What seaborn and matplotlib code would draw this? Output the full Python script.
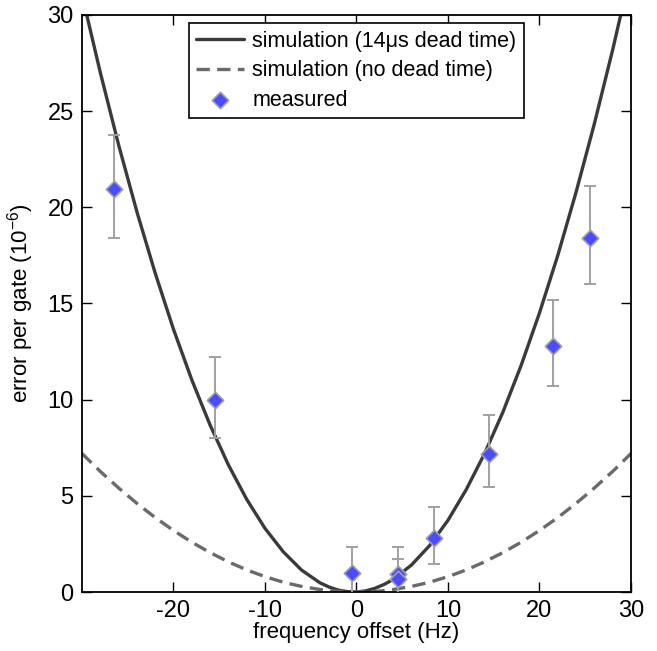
import numpy as np
import pandas as pd
import matplotlib
matplotlib.use("Agg")
import matplotlib.pyplot as plt
import seaborn as sns

# simulation curves
sim_x = [-30, -28, -26, -24, -22, -20, -18, -16, -14, -12, -10, -8, -6, -4, -3, -2, -1, 0,
         1, 2, 3, 4, 6, 8, 10, 12, 14, 16, 18, 20, 22, 24, 26, 28, 30]
dead_y = [31.05, 27.01, 23.25, 19.77, 16.58, 13.66, 11.03, 8.68, 6.61, 4.82, 3.31,
          2.09, 1.14, 0.48, 0.26, 0.10, 0.02, 0.00, 0.06, 0.19, 0.39, 0.65, 1.40,
          2.42, 3.73, 5.33, 7.20, 9.35, 11.79, 14.51, 17.50, 20.79, 24.35, 28.19, 32.32]
nodead_y = [7.20, 6.27, 5.41, 4.61, 3.87, 3.20, 2.59, 2.05, 1.57, 1.15, 0.80,
            0.51, 0.29, 0.13, 0.07, 0.03, 0.01, 0.00, 0.01, 0.03, 0.07, 0.13, 0.29,
            0.51, 0.80, 1.15, 1.57, 2.05, 2.59, 3.20, 3.87, 4.61, 5.41, 6.27, 7.20]

# measured points with error bar ends
meas_x = [-26.5, -15.5, -0.5, 4.5, 4.5, 8.5, 14.5, 21.5, 25.5]
meas_y = [20.95, 10.0, 0.97, 0.93, 0.66, 2.8, 7.2, 12.8, 18.4]
err_lo = [18.4, 8.0, -0.4, -0.45, -0.4, 1.46, 5.45, 10.7, 16.0]
err_hi = [23.76, 12.2, 2.34, 2.34, 1.7, 4.42, 9.2, 15.18, 21.1]

sim = pd.DataFrame({"x": sim_x, "dead": dead_y, "nodead": nodead_y})
meas = pd.DataFrame({"x": meas_x, "y": meas_y, "lo": err_lo, "hi": err_hi})

sns.set_style("ticks")
plt.rcParams['font.family'] = ['Liberation Sans', 'DejaVu Sans']
plt.rcParams['xtick.direction'] = 'in'
plt.rcParams['ytick.direction'] = 'in'
plt.rcParams['xtick.color'] = 'black'
plt.rcParams['ytick.color'] = 'black'
plt.rcParams['text.color'] = 'black'
plt.rcParams['axes.labelcolor'] = 'black'
plt.rcParams['axes.unicode_minus'] = False
plt.rcParams['mathtext.fontset'] = 'custom'
plt.rcParams['mathtext.rm'] = 'Liberation Sans'
plt.rcParams['mathtext.it'] = 'Liberation Sans'

fig = plt.figure(figsize=(6.57, 6.51), dpi=100)
ax = fig.add_axes([0.1248, 0.0906, 0.8356, 0.8864])

sns.lineplot(data=sim, x="x", y="dead", ax=ax, color="#3a3a3a", lw=2.4,
             sort=False, label="simulation (14\u03bcs dead time)")
sns.lineplot(data=sim, x="x", y="nodead", ax=ax, color="#6a6a6a", lw=2.4,
             sort=False, label="simulation (no dead time)")
ax.lines[-1].set_dashes([4, 2.2])

yerr = [meas["y"] - meas["lo"], meas["hi"] - meas["y"]]
ax.errorbar(meas["x"], meas["y"], yerr=yerr, fmt="none", ecolor="#a0a0a0",
            elinewidth=1.4, capsize=4, capthick=1.4, zorder=3)
sns.scatterplot(data=meas, x="x", y="y", ax=ax, marker="D", s=70,
                color="#4a4cff", edgecolor="#a0a0a0", linewidth=1.2,
                zorder=4, label="measured")

ax.set_xlim(-30, 30)
ax.set_ylim(0, 30)
ax.set_xticks([-20, -10, 0, 10, 20, 30])
ax.set_yticks([0, 5, 10, 15, 20, 25, 30])
ax.tick_params(top=True, right=True, labelsize=17, length=7, width=1, pad=6)
for s in ax.spines.values():
    s.set_linewidth(1.3)
    s.set_color("black")

ax.set_xlabel("frequency offset (Hz)", fontsize=16, labelpad=0)
ax.set_ylabel("error per gate (10$^{-6}$)", fontsize=16, labelpad=8)

leg = ax.legend(loc="upper center", bbox_to_anchor=(0.5, 0.986), fontsize=15.5,
                frameon=True, fancybox=False, edgecolor="black", framealpha=1,
                handlelength=2.2, handletextpad=0.4, borderpad=0.35,
                labelspacing=0.4, borderaxespad=0)
leg.get_frame().set_linewidth(1.2)

fig.savefig("out.png", dpi=100)
